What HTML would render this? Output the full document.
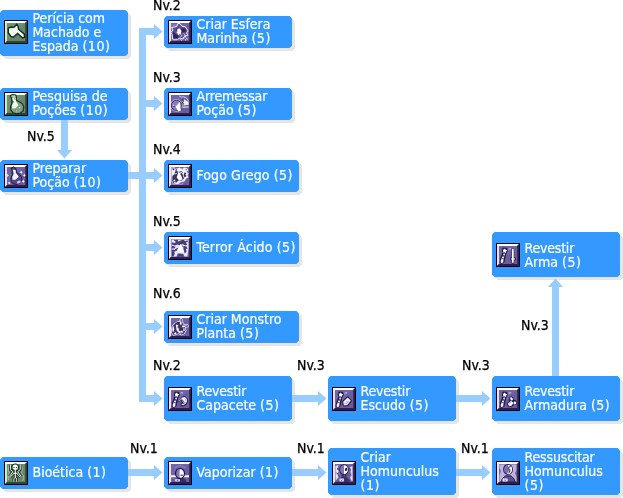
<!DOCTYPE html>
<html lang="pt"><head><meta charset="utf-8"><title>Árvore de Habilidades</title>
<style>
html,body{margin:0;padding:0;background:#fff}
body{will-change:transform;width:623px;height:498px;position:relative;overflow:hidden;font-family:"DejaVu Sans Condensed","Liberation Sans",sans-serif;font-size:14px;line-height:14px}
.b{position:absolute;background:#3399ff;clip-path:polygon(2.5px 0,calc(100% - 2.5px) 0,100% 2.5px,100% calc(100% - 2.5px),calc(100% - 2.5px) 100%,2.5px 100%,0 calc(100% - 2.5px),0 2.5px);color:#fff}
.s{position:absolute;background:#e5e5e5;clip-path:polygon(2.5px 0,calc(100% - 2.5px) 0,100% 2.5px,100% calc(100% - 2.5px),calc(100% - 2.5px) 100%,2.5px 100%,0 calc(100% - 2.5px),0 2.5px)}
.b .ic{position:absolute;left:4px}
.b span{-webkit-text-stroke:0.2px #fff;position:absolute;left:32.5px;white-space:nowrap;height:14px}
.b i{font-style:normal;letter-spacing:0.5px}
.l{position:absolute;color:#000;-webkit-text-stroke:0.25px #000;white-space:nowrap;height:14px}
.a{position:absolute;background:#99ccff}
.h{position:absolute;width:0;height:0;border-style:solid;border-color:transparent}
</style></head><body>

<div class="s" style="left:3px;top:13px;width:128px;height:46px"></div>
<div class="s" style="left:3px;top:91px;width:128px;height:32px"></div>
<div class="s" style="left:3px;top:163px;width:128px;height:32px"></div>
<div class="s" style="left:167px;top:19px;width:128px;height:32px"></div>
<div class="s" style="left:167px;top:91px;width:128px;height:32px"></div>
<div class="s" style="left:167px;top:163px;width:135px;height:32px"></div>
<div class="s" style="left:167px;top:235px;width:135px;height:32px"></div>
<div class="s" style="left:167px;top:314px;width:135px;height:32px"></div>
<div class="s" style="left:167px;top:379px;width:128px;height:45px"></div>
<div class="s" style="left:331px;top:379px;width:128px;height:45px"></div>
<div class="s" style="left:495px;top:379px;width:128px;height:45px"></div>
<div class="s" style="left:495px;top:235px;width:128px;height:45px"></div>
<div class="s" style="left:3px;top:460px;width:128px;height:32px"></div>
<div class="s" style="left:167px;top:460px;width:128px;height:32px"></div>
<div class="s" style="left:331px;top:451px;width:128px;height:47px"></div>
<div class="s" style="left:495px;top:451px;width:128px;height:47px"></div>
<div class="a" style="left:139px;top:28px;width:7px;height:374px"></div>
<div class="a" style="left:128px;top:172px;width:11px;height:7px"></div>
<div class="a" style="left:61px;top:119px;width:7px;height:31px"></div>
<div class="a" style="left:552px;top:287px;width:7px;height:89px"></div>
<div class="a" style="left:139px;top:28px;width:15px;height:7px"></div>
<svg class="h" style="left:154px;top:24px;width:9px;height:15px;border:0" viewBox="0 0 9 15"><path d="M0 0L8.5 7.5L0 15Z" fill="#99ccff"/></svg>
<div class="a" style="left:139px;top:100px;width:15px;height:7px"></div>
<svg class="h" style="left:154px;top:96px;width:9px;height:15px;border:0" viewBox="0 0 9 15"><path d="M0 0L8.5 7.5L0 15Z" fill="#99ccff"/></svg>
<div class="a" style="left:139px;top:172px;width:15px;height:7px"></div>
<svg class="h" style="left:154px;top:168px;width:9px;height:15px;border:0" viewBox="0 0 9 15"><path d="M0 0L8.5 7.5L0 15Z" fill="#99ccff"/></svg>
<div class="a" style="left:139px;top:244px;width:15px;height:7px"></div>
<svg class="h" style="left:154px;top:240px;width:9px;height:15px;border:0" viewBox="0 0 9 15"><path d="M0 0L8.5 7.5L0 15Z" fill="#99ccff"/></svg>
<div class="a" style="left:139px;top:323px;width:15px;height:7px"></div>
<svg class="h" style="left:154px;top:319px;width:9px;height:15px;border:0" viewBox="0 0 9 15"><path d="M0 0L8.5 7.5L0 15Z" fill="#99ccff"/></svg>
<div class="a" style="left:139px;top:395px;width:15px;height:7px"></div>
<svg class="h" style="left:154px;top:391px;width:9px;height:15px;border:0" viewBox="0 0 9 15"><path d="M0 0L8.5 7.5L0 15Z" fill="#99ccff"/></svg>
<div class="a" style="left:292px;top:395px;width:26px;height:7px"></div>
<svg class="h" style="left:318px;top:391px;width:9px;height:15px;border:0" viewBox="0 0 9 15"><path d="M0 0L8.5 7.5L0 15Z" fill="#99ccff"/></svg>
<div class="a" style="left:456px;top:395px;width:26px;height:7px"></div>
<svg class="h" style="left:482px;top:391px;width:9px;height:15px;border:0" viewBox="0 0 9 15"><path d="M0 0L8.5 7.5L0 15Z" fill="#99ccff"/></svg>
<div class="a" style="left:128px;top:469px;width:26px;height:7px"></div>
<svg class="h" style="left:154px;top:465px;width:9px;height:15px;border:0" viewBox="0 0 9 15"><path d="M0 0L8.5 7.5L0 15Z" fill="#99ccff"/></svg>
<div class="a" style="left:292px;top:469px;width:26px;height:7px"></div>
<svg class="h" style="left:318px;top:465px;width:9px;height:15px;border:0" viewBox="0 0 9 15"><path d="M0 0L8.5 7.5L0 15Z" fill="#99ccff"/></svg>
<div class="a" style="left:456px;top:469px;width:26px;height:7px"></div>
<svg class="h" style="left:482px;top:465px;width:9px;height:15px;border:0" viewBox="0 0 9 15"><path d="M0 0L8.5 7.5L0 15Z" fill="#99ccff"/></svg>
<svg class="h" style="left:57px;top:150px;width:15px;height:9px;border:0" viewBox="0 0 15 9"><path d="M0 0H15L7.5 8.5Z" fill="#99ccff"/></svg>
<svg class="h" style="left:548px;top:278px;width:15px;height:9px;border:0" viewBox="0 0 15 9"><path d="M0 9H15L7.5 0.5Z" fill="#99ccff"/></svg>
<div class="b" style="left:0px;top:10px;width:128px;height:46px"><svg class="ic" style="top:10px" width="24" height="24" viewBox="0 0 24 24"><rect width="24" height="24" fill="#08040f"/><rect x="1" y="1" width="22" height="22" fill="#6f9070"/><path d="M3 21L21 3V21Z" fill="#64866a"/><path d="M1 1H3V21L1 23Z" fill="#cfe8c8"/><path d="M1 1H23L21 3H1Z" fill="#f6fff2"/><path d="M23 1V23H1L3 21H21.2V3Z" fill="#2a4634"/><path d="M4.2 8.6L5.4 7.5L10.4 7L12.5 4.4L14.2 6.4L14.5 9.2L20.3 14.2L20.6 17.2L18.7 18L13.6 13.4L9.2 17.2L7 16.4L4.4 13Z" fill="#f3fbf3" stroke="#10281a" stroke-width="1.4"/><path d="M5.6 9.2L10.6 8.4L12.4 6.2" fill="none" stroke="#cfe8cf" stroke-width="0.6"/></svg><span style="top:1px">Perícia com</span><span style="top:15px">Machado e</span><span style="top:29px">Espada <i>(10)</i></span></div>
<div class="b" style="left:0px;top:88px;width:128px;height:32px"><svg class="ic" style="top:4px" width="24" height="24" viewBox="0 0 24 24"><rect width="24" height="24" fill="#08040f"/><rect x="1" y="1" width="22" height="22" fill="#6f9070"/><path d="M3 21L21 3V21Z" fill="#64866a"/><path d="M1 1H3V21L1 23Z" fill="#cfe8c8"/><path d="M1 1H23L21 3H1Z" fill="#f6fff2"/><path d="M23 1V23H1L3 21H21.2V3Z" fill="#2a4634"/><path d="M6.4 3.6L8.6 2.6L11.6 3L12.4 4.8L12.2 8.2L14.6 9.6L18.2 11.6L19.8 15L19.2 18.6L16.4 21.2L12.6 21.8L9 20.8L6.8 18L6.6 14.4L8 11L7.6 6.4Z" fill="#7fa182" stroke="#163020" stroke-width="1.2"/><path d="M7.2 3.8L9 3.2L11.2 3.6L11.6 4.8L8 5.2Z" fill="#b9d6b4"/><path d="M8.2 5.8L11.6 5.4L12 9L14.4 13.2L11.6 16.2L8 16.6L8.2 13L9.4 10.2Z" fill="#f4fbf4"/><path d="M15.2 15.2L16.2 15.2L16.2 16.2L15.2 16.2Z" fill="#f2faf2"/><path d="M12 18.4L13 18.4L13 19.2L12 19.2Z" fill="#cfe4cf"/><path d="M10 6.2L11.6 7.8" fill="none" stroke="#9fb43c" stroke-width="1.1"/><path d="M8.2 9.6L10 10" fill="none" stroke="#163020" stroke-width="0.8"/></svg><span style="top:1px">Pesquisa de</span><span style="top:15px">Poções <i>(10)</i></span></div>
<div class="b" style="left:0px;top:160px;width:128px;height:32px"><svg class="ic" style="top:4px" width="24" height="24" viewBox="0 0 24 24"><rect width="24" height="24" fill="#08040f"/><rect x="1" y="1" width="22" height="22" fill="#7165a7"/><path d="M3 21L21 3V21Z" fill="#695d9f"/><path d="M1 1H3V21L1 23Z" fill="#e6e1f7"/><path d="M1 1H23L21 3H1Z" fill="#ffffff"/><path d="M23 1V23H1L3 21H21.2V3Z" fill="#2c2050"/><path d="M7.2 4.2L9.4 3L12 4.6L12.6 8.4L15 9.8L17.4 12.6L18 16L16.2 19.2L12.6 20.4L9 19.8L7 17.4L7 13.6L8.4 10.4L8 6.4Z" fill="#54468a" stroke="#241a44" stroke-width="1"/><path d="M8.8 5.8L11.6 6L12 9L14.8 12.8L11.4 15.8L8.4 15.8L8.4 12.6L9.8 10Z" fill="#f6f4ff"/><path d="M6 4.4L7.4 5.6M6.6 7.6L8.4 8.6M8.4 9.4L7.6 11.6M12.2 5.6L12.6 6.4M14.4 13.2L15.6 12.2" fill="none" stroke="#1f5a2a" stroke-width="1"/><path d="M17.2 6.6L17.8 7.8L19 8.3L17.8 8.8L17.2 10L16.6 8.8L15.4 8.3L16.6 7.8ZM20.3 9.6L20.8 10.8L22 11.3L20.8 11.8L20.3 13L19.8 11.8L18.6 11.3L19.8 10.8ZM19.2 15.4L19.8 16.7L21 17.2L19.8 17.7L19.2 19L18.6 17.7L17.4 17.2L18.6 16.7ZM5.2 17.4L5.7 18.5L6.8 19L5.7 19.4L5.2 20.6L4.7 19.4L3.6 19L4.7 18.5Z" fill="#ffffff"/><path d="M13.6 17L16 16.4L17 18.2L15 19.4L12.6 19.4Z" fill="#cfc8ee"/><path d="M3.2 9.8L4.8 11.4L3.2 13Z" fill="#f6f4ff"/></svg><span style="top:1px">Preparar</span><span style="top:15px">Poção <i>(10)</i></span></div>
<div class="b" style="left:164px;top:16px;width:128px;height:32px"><svg class="ic" style="top:4px" width="24" height="24" viewBox="0 0 24 24"><rect width="24" height="24" fill="#08040f"/><rect x="1" y="1" width="22" height="22" fill="#7165a7"/><path d="M3 21L21 3V21Z" fill="#695d9f"/><path d="M1 1H3V21L1 23Z" fill="#e6e1f7"/><path d="M1 1H23L21 3H1Z" fill="#ffffff"/><path d="M23 1V23H1L3 21H21.2V3Z" fill="#2c2050"/><path d="M9.6 3.6L12 3.6L13.8 6.2L17.4 6.8L18.8 9L20 10.8L18.6 13L19.8 15.2L16.4 16.4L14.8 19.2L12 18L9.4 19.4L4.6 19.2L4.2 14.4L2.8 12.2L5 10.2L3.6 7.4L6.8 7L9 6.2Z" fill="#5b4d92" stroke="#f4f1ff" stroke-width="1"/><path d="M5.2 12L10.8 16.4L9.6 18.6L5.2 18.4Z" fill="#2e2256"/><path d="M13 8.4L17.2 8.6L18 11L15.6 12.6L13.4 11.6Z" fill="#2e2256"/><path d="M8 9L9.6 8.6L8.8 10.4Z" fill="#2e2256"/><path d="M9 9.6L11.6 8.2L12.6 9.8L13.6 11L12.8 12.6L13.4 14.4L11.4 14.2L10 15.2L9.6 13.2L8.2 12.2L9.6 11.2Z" fill="#ffffff"/><path d="M12.6 16.4L14.4 15.4M15 18.6L16 17M16.8 14.6L17.4 17.4M18.4 17.8L19.4 19.6M12.4 19.4L13.6 20.4M16.8 19.4L18 20.2M15.4 13.6L16.6 14.2" fill="none" stroke="#ffffff" stroke-width="0.9"/><path d="M3.6 5.2L8.6 5M4.4 20L9 20.2" fill="none" stroke="#a299d2" stroke-width="0.8"/></svg><span style="top:1px">Criar Esfera</span><span style="top:15px">Marinha <i>(5)</i></span></div>
<div class="b" style="left:164px;top:88px;width:128px;height:32px"><svg class="ic" style="top:4px" width="24" height="24" viewBox="0 0 24 24"><rect width="24" height="24" fill="#08040f"/><rect x="1" y="1" width="22" height="22" fill="#7165a7"/><path d="M3 21L21 3V21Z" fill="#695d9f"/><path d="M1 1H3V21L1 23Z" fill="#e6e1f7"/><path d="M1 1H23L21 3H1Z" fill="#ffffff"/><path d="M23 1V23H1L3 21H21.2V3Z" fill="#2c2050"/><circle cx="8.4" cy="13.4" r="5.2" fill="#8a7cc0" stroke="#2a1f50" stroke-width="0.9"/><circle cx="8.4" cy="13.4" r="5.9" fill="none" stroke="#e6e1fa" stroke-width="0.6"/><path d="M11.8 9.8L12.8 18.6L10.6 19.4L7.4 14.8L9.6 12.6Z" fill="#ffffff"/><path d="M5 12.4L6.4 13.4L5 14.2Z" fill="#ffffff"/><path d="M14.4 9.4L16.4 7.4L20.6 10L20.8 12.8L15.4 13.4L16 11.2Z" fill="#e9f3d6"/><path d="M11 3.8L13.4 5.2L15.6 4.6L19 6.6L20.8 9.4" fill="none" stroke="#d9d3f2" stroke-width="0.9"/><path d="M14.4 14.6L20.6 14.2L20.8 15.4L15 16Z" fill="#cfc8ee"/><path d="M5 14.4L6.8 14.4M13 16L14 17.8" fill="none" stroke="#1f5a2a" stroke-width="0.9"/><path d="M14 7L15.6 9.4L13.6 11.6" fill="none" stroke="#2a1f50" stroke-width="0.9"/></svg><span style="top:1px;letter-spacing:-0.15px">Arremessar</span><span style="top:15px">Poção <i>(5)</i></span></div>
<div class="b" style="left:164px;top:160px;width:135px;height:32px"><svg class="ic" style="top:4px" width="24" height="24" viewBox="0 0 24 24"><rect width="24" height="24" fill="#08040f"/><rect x="1" y="1" width="22" height="22" fill="#7165a7"/><path d="M3 21L21 3V21Z" fill="#695d9f"/><path d="M1 1H3V21L1 23Z" fill="#e6e1f7"/><path d="M1 1H23L21 3H1Z" fill="#ffffff"/><path d="M23 1V23H1L3 21H21.2V3Z" fill="#2c2050"/><path d="M3.4 3.6L7 3.2L6.4 5L9 4.6L11.6 3.4L13 4.6L16.8 3.6L19.6 4.4L20.4 6.6L18.6 7.8L20.6 9.4L19.4 11.4L20.6 13.2L18.2 14.6L16.4 17.4L13 18.2L9.6 20.4L5.4 20.6L3.6 18L3.4 12Z" fill="#f1eefc"/><path d="M4 4.6L6 4.4L6.4 6L5.2 6.2ZM7.6 5.4L9.4 5.2L8.4 7L10 7.2L8.4 9.2L6.4 9.6L7.4 7.6ZM13.6 4.4L15.2 4.4L14.8 5.6ZM17.6 5L19 5.4L18 6.6ZM16.4 8.6L18.4 9L17.4 10.8L18.4 12L16.6 13.4L15.6 11.4ZM4.4 12L6 10.6L8.6 10L9.6 8L11.6 7.4L12.4 9L14.4 9.4L15 12L16 14.4L14 16.6L10.4 16.6L8.4 18.4L6.4 18L5 19.4L4.2 16.4Z" fill="#3a2c66"/><path d="M10.6 7.6L12.4 8.6L13 11L14.6 15.6L11.2 16.6L8.6 13.4Z" fill="#ffffff"/><path d="M5.4 16L7.2 15.4L7.4 17.2L5.6 17.4Z" fill="#ffffff"/><path d="M6.2 13.4L7.8 14.6M11.4 8.6L13.2 7.4L14.8 8.8M12.6 10.2L13.4 11.6" fill="none" stroke="#1f5a2a" stroke-width="1"/><path d="M12 8.2L13 8.8" fill="none" stroke="#b9c43c" stroke-width="0.9"/><path d="M4 18.4L10 20.6L16 18.4L14.6 20.8L4.4 21Z" fill="#9a8fcd"/></svg><span style="top:8px;letter-spacing:0.08px">Fogo Grego <i>(5)</i></span></div>
<div class="b" style="left:164px;top:232px;width:135px;height:32px"><svg class="ic" style="top:4px" width="24" height="24" viewBox="0 0 24 24"><rect width="24" height="24" fill="#08040f"/><rect x="1" y="1" width="22" height="22" fill="#7165a7"/><path d="M3 21L21 3V21Z" fill="#695d9f"/><path d="M1 1H3V21L1 23Z" fill="#e6e1f7"/><path d="M1 1H23L21 3H1Z" fill="#ffffff"/><path d="M23 1V23H1L3 21H21.2V3Z" fill="#2c2050"/><path d="M3.6 3.6L20.4 3.6L20.6 12L19.4 20.4L16.6 20.6L15 17.4L11 18.6L8 20.6L3.6 20.6Z" fill="#e9e5fa"/><path d="M5.6 4L9.6 3.8L10.4 5.4L13 4.2L15.6 3.8L17 5L19.6 4.4L19.8 6L17.6 6.6L19.4 8.6L17.4 9.4L14.6 8L12 9.6L9.4 8.6L7 9.6L4 8.6L3.8 6.4L6.6 7L8 6ZM3.8 9.8L7.6 10.8L6.4 12.6L3.8 12.6ZM3.8 13.6L6.6 14L8.4 12.4L10.6 11.6L9.4 13.6L7.4 16L5.8 20.2L3.8 20.4ZM15.6 10L18.6 10.6L19.6 13L17.6 12.8L18.6 15.6L17 17.6L15.4 14.6ZM9.6 17.6L12.6 17.4L15.2 18.6L15.8 20.4L9 20.4Z" fill="#4a3c80"/><path d="M12.4 8L14.2 9.4L14.6 12.4L16.4 16L13 17L9.6 14Z" fill="#ffffff"/><path d="M6.4 15.6L8.2 15.2L8.4 17L6.6 17.2Z" fill="#ffffff"/><path d="M7 13L8.6 14.4M13.4 6.6L15.8 5.2M15.2 7.4L17.4 8.2M14.4 9.6L15.4 11.4M11.6 7.4L12.4 6.6" fill="none" stroke="#1f5a2a" stroke-width="1"/><path d="M14.2 8L15 8.6" fill="none" stroke="#b9c43c" stroke-width="0.9"/></svg><span style="top:8px;letter-spacing:0.15px">Terror Ácido <i>(5)</i></span></div>
<div class="b" style="left:164px;top:311px;width:135px;height:32px"><svg class="ic" style="top:4px" width="24" height="24" viewBox="0 0 24 24"><rect width="24" height="24" fill="#08040f"/><rect x="1" y="1" width="22" height="22" fill="#7165a7"/><path d="M3 21L21 3V21Z" fill="#695d9f"/><path d="M1 1H3V21L1 23Z" fill="#e6e1f7"/><path d="M1 1H23L21 3H1Z" fill="#ffffff"/><path d="M23 1V23H1L3 21H21.2V3Z" fill="#2c2050"/><path d="M12.6 3.4L13.8 3.6L14.6 6.6L15.4 9.4L19.8 9.6L20.6 11.6L17 12.6L18 15.4L16.4 19L13.4 20L10.6 18.6L8.4 19.6L5.2 20.4L3.4 17L3.6 12.4L5.4 9.4L7.6 8.2L9.6 6.4L11.4 6.6Z" fill="#41336f" stroke="#f1eefc" stroke-width="0.8"/><path d="M12.8 4.6L13.8 8.6L13 10.4L11.8 8.4ZM14.4 10.6L19.4 10.4L16.4 12L14 12.6ZM4.4 12.6L5.6 11L6.2 14.6L5.2 17.6L4.4 16ZM8 9.4L10.6 10.2L9.4 11.6L11.4 13.4L10.4 15L12 16.6L14.4 15.6L15 17.6L13 18.8L10.6 17.6L8.6 15.2L8.2 12.4ZM6 18.6L7.8 17L8.6 18.4L6.6 19.6ZM15 13.6L16.6 13.4L16.6 16L15.6 16.6Z" fill="#ffffff"/><path d="M7.4 8.6L10.6 7.4M9.6 12L12 14.6M13 13.6L15.2 14.6M12.4 17.2L14 18.4" fill="none" stroke="#241a44" stroke-width="0.8"/></svg><span style="top:1px">Criar Monstro</span><span style="top:15px">Planta <i>(5)</i></span></div>
<div class="b" style="left:164px;top:376px;width:128px;height:45px"><svg class="ic" style="top:11px" width="24" height="24" viewBox="0 0 24 24"><rect width="24" height="24" fill="#08040f"/><rect x="1" y="1" width="22" height="22" fill="#7165a7"/><path d="M3 21L21 3V21Z" fill="#695d9f"/><path d="M1 1H3V21L1 23Z" fill="#e6e1f7"/><path d="M1 1H23L21 3H1Z" fill="#ffffff"/><path d="M23 1V23H1L3 21H21.2V3Z" fill="#2c2050"/><path d="M6.6 4.6L10.6 4.8L12 7.6L10.4 10.6L8.4 19.6L5.6 21L3.6 20L4.2 15.6L6.4 9.6L5.6 7.4Z" fill="#241a44"/><path d="M8.7 5.4L9.6 6.7L11.3 7.3L10 8.4L9.9 10L8.5 9.2L6.7 9.6L7.4 8L6.5 6.7L8 6.6Z" fill="#ffffff"/><path d="M7.4 10.4L9.2 10.6L8.8 12.8L7 12.4Z" fill="#cfc9ea"/><path d="M6.6 13.2L8.4 13.6L7.6 16L7.2 19.4L5 20.2L4.6 18.2L5.6 15.4Z" fill="#f1eefb"/><path d="M5.6 15.2L7.8 15.8M7 12.8L8.6 13.2" fill="none" stroke="#241a44" stroke-width="0.7"/><path d="M13.2 5.8L14 4.8L15 5.6L14.4 6.6L13.4 6.6Z" fill="#dcd6f4"/><path d="M12 6.6L13 7.2" fill="none" stroke="#bdb5e2" stroke-width="0.8"/><path d="M10.2 14.4L14.4 9.6L17.2 9.2L19.4 11.4L20.2 14.6L18.6 17.4L15.6 19.4L12.8 19.2L12.4 17L13.8 15.6L12.6 13.6L11 15.2Z" fill="#241a44"/><path d="M14.2 10.4L16.8 10L18.6 11.6L19.2 14.4L17.8 16.6L15.4 18.2L13.6 18L13.8 16.8L15.8 16L13.2 12.4L11.4 14.2L10.9 13.9Z" fill="#f6f4ff"/><path d="M13.4 12L16.6 15.4M14.4 16.6L16.4 16.6" fill="none" stroke="#241a44" stroke-width="0.8"/><path d="M17 12L18.2 14.4L17 16.2" fill="none" stroke="#b5acdf" stroke-width="1"/></svg><span style="top:8px;letter-spacing:-0.2px">Revestir</span><span style="top:22px">Capacete <i>(5)</i></span></div>
<div class="b" style="left:328px;top:376px;width:128px;height:45px"><svg class="ic" style="top:11px" width="24" height="24" viewBox="0 0 24 24"><rect width="24" height="24" fill="#08040f"/><rect x="1" y="1" width="22" height="22" fill="#7165a7"/><path d="M3 21L21 3V21Z" fill="#695d9f"/><path d="M1 1H3V21L1 23Z" fill="#e6e1f7"/><path d="M1 1H23L21 3H1Z" fill="#ffffff"/><path d="M23 1V23H1L3 21H21.2V3Z" fill="#2c2050"/><path d="M6.6 4.6L10.6 4.8L12 7.6L10.4 10.6L8.4 19.6L5.6 21L3.6 20L4.2 15.6L6.4 9.6L5.6 7.4Z" fill="#241a44"/><path d="M8.7 5.4L9.6 6.7L11.3 7.3L10 8.4L9.9 10L8.5 9.2L6.7 9.6L7.4 8L6.5 6.7L8 6.6Z" fill="#ffffff"/><path d="M7.4 10.4L9.2 10.6L8.8 12.8L7 12.4Z" fill="#cfc9ea"/><path d="M6.6 13.2L8.4 13.6L7.6 16L7.2 19.4L5 20.2L4.6 18.2L5.6 15.4Z" fill="#f1eefb"/><path d="M5.6 15.2L7.8 15.8M7 12.8L8.6 13.2" fill="none" stroke="#241a44" stroke-width="0.7"/><path d="M13.2 5.8L14 4.8L15 5.6L14.4 6.6L13.4 6.6Z" fill="#dcd6f4"/><path d="M12 6.6L13 7.2" fill="none" stroke="#bdb5e2" stroke-width="0.8"/><path d="M10.4 14L15.6 9L20 13.4L19.2 15.2L15.8 19.2L12.2 19.6L10.4 17.6Z" fill="#241a44"/><path d="M11.4 14.4L15.6 10.4L18.8 13.6L15.4 18L12.6 18.4L11.4 17Z" fill="#f1eefc"/><path d="M12.6 16.4L15 16.2L17 14.2" fill="none" stroke="#a9a0d8" stroke-width="1"/><path d="M14.4 14.6L15.6 14.4" fill="none" stroke="#8278ba" stroke-width="0.8"/></svg><span style="top:8px;letter-spacing:-0.2px">Revestir</span><span style="top:22px">Escudo <i>(5)</i></span></div>
<div class="b" style="left:492px;top:376px;width:128px;height:45px"><svg class="ic" style="top:11px" width="24" height="24" viewBox="0 0 24 24"><rect width="24" height="24" fill="#08040f"/><rect x="1" y="1" width="22" height="22" fill="#7165a7"/><path d="M3 21L21 3V21Z" fill="#695d9f"/><path d="M1 1H3V21L1 23Z" fill="#e6e1f7"/><path d="M1 1H23L21 3H1Z" fill="#ffffff"/><path d="M23 1V23H1L3 21H21.2V3Z" fill="#2c2050"/><path d="M6.6 4.6L10.6 4.8L12 7.6L10.4 10.6L8.4 19.6L5.6 21L3.6 20L4.2 15.6L6.4 9.6L5.6 7.4Z" fill="#241a44"/><path d="M8.7 5.4L9.6 6.7L11.3 7.3L10 8.4L9.9 10L8.5 9.2L6.7 9.6L7.4 8L6.5 6.7L8 6.6Z" fill="#ffffff"/><path d="M7.4 10.4L9.2 10.6L8.8 12.8L7 12.4Z" fill="#cfc9ea"/><path d="M6.6 13.2L8.4 13.6L7.6 16L7.2 19.4L5 20.2L4.6 18.2L5.6 15.4Z" fill="#f1eefb"/><path d="M5.6 15.2L7.8 15.8M7 12.8L8.6 13.2" fill="none" stroke="#241a44" stroke-width="0.7"/><path d="M13.2 5.8L14 4.8L15 5.6L14.4 6.6L13.4 6.6Z" fill="#dcd6f4"/><path d="M12 6.6L13 7.2" fill="none" stroke="#bdb5e2" stroke-width="0.8"/><path d="M12.6 10.2L15 9.2L17.2 10.6L17.8 12.8L20.2 13.2L21.2 15.6L20.6 17.8L17.8 18.2L15.6 20L13 20.2L10.4 17L12.8 14.2L13.4 12.4Z" fill="#241a44"/><path d="M13.6 10.6L15.4 10.2L16.6 11.2L17 13L15.2 13.6ZM11.6 16.8L15 13.8L17.6 16L15.2 19L13.4 19.2Z M17.8 14.4L20.4 14.8L20 17.2L17.8 17.4Z" fill="#f6f4ff"/><path d="M13 16.8L15.4 15.2" fill="none" stroke="#b5acdf" stroke-width="0.8"/></svg><span style="top:8px;letter-spacing:-0.2px">Revestir</span><span style="top:22px">Armadura <i>(5)</i></span></div>
<div class="b" style="left:492px;top:232px;width:128px;height:45px"><svg class="ic" style="top:11px" width="24" height="24" viewBox="0 0 24 24"><rect width="24" height="24" fill="#08040f"/><rect x="1" y="1" width="22" height="22" fill="#7165a7"/><path d="M3 21L21 3V21Z" fill="#695d9f"/><path d="M1 1H3V21L1 23Z" fill="#e6e1f7"/><path d="M1 1H23L21 3H1Z" fill="#ffffff"/><path d="M23 1V23H1L3 21H21.2V3Z" fill="#2c2050"/><path d="M6.6 4.6L10.6 4.8L12 7.6L10.4 10.6L8.4 19.6L5.6 21L3.6 20L4.2 15.6L6.4 9.6L5.6 7.4Z" fill="#241a44"/><path d="M8.7 5.4L9.6 6.7L11.3 7.3L10 8.4L9.9 10L8.5 9.2L6.7 9.6L7.4 8L6.5 6.7L8 6.6Z" fill="#ffffff"/><path d="M7.4 10.4L9.2 10.6L8.8 12.8L7 12.4Z" fill="#cfc9ea"/><path d="M6.6 13.2L8.4 13.6L7.6 16L7.2 19.4L5 20.2L4.6 18.2L5.6 15.4Z" fill="#f1eefb"/><path d="M5.6 15.2L7.8 15.8M7 12.8L8.6 13.2" fill="none" stroke="#241a44" stroke-width="0.7"/><path d="M13.2 5.8L14 4.8L15 5.6L14.4 6.6L13.4 6.6Z" fill="#dcd6f4"/><path d="M12 6.6L13 7.2" fill="none" stroke="#bdb5e2" stroke-width="0.8"/><path d="M15.6 5.2L18.2 5.2L18.2 14.4L19.8 14.8L19.8 17.2L18.2 17.4L18.2 20.4L15.6 20.4L15.6 17.4L14 17.2L14 14.8L15.6 14.4Z" fill="#241a44"/><path d="M16 5.8L17.7 5.8L17.7 19.8L16 19.8Z" fill="#ffffff"/><path d="M14.8 15.4L19 15.4L19 16.6L14.8 16.6Z" fill="#f1eefc"/></svg><span style="top:9px;letter-spacing:-0.2px">Revestir</span><span style="top:23px">Arma <i>(5)</i></span></div>
<div class="b" style="left:0px;top:457px;width:128px;height:32px"><svg class="ic" style="top:4px" width="24" height="24" viewBox="0 0 24 24"><rect width="24" height="24" fill="#08040f"/><rect x="1" y="1" width="22" height="22" fill="#6f9070"/><path d="M3 21L21 3V21Z" fill="#64866a"/><path d="M1 1H3V21L1 23Z" fill="#cfe8c8"/><path d="M1 1H23L21 3H1Z" fill="#f6fff2"/><path d="M23 1V23H1L3 21H21.2V3Z" fill="#2a4634"/><path d="M5 4.4L4.2 9L5.4 12L4 15L4.6 19M17.6 4.4L18.4 9L17.2 12L19.6 15L19.6 18L18 20" fill="none" stroke="#a9c9a9" stroke-width="0.8"/><path d="M6.4 3.8L6.4 8.6L8.9 10.6L5.4 15.6M16.2 3.8L16.2 8.6L13.7 10.6L17.2 15.6M9.8 12.6L6.2 16.2M12.8 12.6L16.4 16.2" fill="none" stroke="#173222" stroke-width="2.6"/><path d="M11.3 8L11.3 17M9.2 12.2L13.4 12.2M9.9 20.6L9.9 17.6L11.3 16.6L12.7 17.6L12.7 20.6" fill="none" stroke="#173222" stroke-width="2.6"/><circle cx="11.3" cy="6.3" r="3.7" fill="#173222"/><circle cx="11.3" cy="6.3" r="2.7" fill="#f8fdf8"/><path d="M9.4 6.5L10.6 6.5M12 6.5L13.2 6.5" fill="none" stroke="#173222" stroke-width="0.9"/><path d="M6.4 3.6L6.4 8.6L8.9 10.6L5.4 15.6M16.2 3.6L16.2 8.6L13.7 10.6L17.2 15.6M9.8 12.6L6.2 16.2M12.8 12.6L16.4 16.2" fill="none" stroke="#f4fbf4" stroke-width="1"/><path d="M11.3 8.6L11.3 17M9.2 12.2L13.4 12.2" fill="none" stroke="#f8fdf8" stroke-width="1.1"/><path d="M9.9 20.8L9.9 17.6L11.3 16.6L12.7 17.6L12.7 20.8" fill="none" stroke="#e6f3e6" stroke-width="0.9"/><path d="M13.2 3.8L14 4.6" fill="none" stroke="#5a2a7a" stroke-width="0.8"/></svg><span style="top:8px">Bioética <i>(1)</i></span></div>
<div class="b" style="left:164px;top:457px;width:128px;height:32px"><svg class="ic" style="top:4px" width="24" height="24" viewBox="0 0 24 24"><rect width="24" height="24" fill="#08040f"/><rect x="1" y="1" width="22" height="22" fill="#7165a7"/><path d="M3 21L21 3V21Z" fill="#695d9f"/><path d="M1 1H3V21L1 23Z" fill="#e6e1f7"/><path d="M1 1H23L21 3H1Z" fill="#ffffff"/><path d="M23 1V23H1L3 21H21.2V3Z" fill="#2c2050"/><path d="M3 14.3L21 14.3L21 16.3L3 16.3Z" fill="#f6f4ff"/><path d="M7 21L8.4 18L11 16.4L14.6 16.4L17.6 18.4L18.4 21Z" fill="#3b2e68"/><ellipse cx="12" cy="12.4" rx="5" ry="5.5" fill="#1a1238"/><ellipse cx="12" cy="12.4" rx="3.8" ry="4.4" fill="#8478bb"/><path d="M11.6 8.2Q15.6 8.4 15.8 12.4Q15.6 16.2 12.6 16.8L11.6 16.6Z" fill="#ffffff"/><path d="M12.4 14.2L15 14.2" fill="none" stroke="#241a44" stroke-width="0.9"/><path d="M7.2 18.2L11.8 18.2L11.8 20.6L7.2 20.6Z" fill="#f4f1ff"/><path d="M8.6 19.4L10.4 19.4" fill="none" stroke="#3b2e68" stroke-width="0.7"/><path d="M6 7L12 4.4L18 7" fill="none" stroke="#8b80c2" stroke-width="1"/></svg><span style="top:8px">Vaporizar <i>(1)</i></span></div>
<div class="b" style="left:328px;top:448px;width:128px;height:47px"><svg class="ic" style="top:13px" width="24" height="24" viewBox="0 0 24 24"><rect width="24" height="24" fill="#08040f"/><rect x="1" y="1" width="22" height="22" fill="#7165a7"/><path d="M3 21L21 3V21Z" fill="#695d9f"/><path d="M1 1H3V21L1 23Z" fill="#e6e1f7"/><path d="M1 1H23L21 3H1Z" fill="#ffffff"/><path d="M23 1V23H1L3 21H21.2V3Z" fill="#2c2050"/><path d="M3.4 5L6.4 4L5.4 8L6.8 10.6L5 13L7 15.4L4.6 18.4L3.6 20Z M20.4 5L17.8 6.4L19 9.4L18 12L19.8 14.4L18 16L19.2 19.6L20.6 20Z" fill="#e4e0f6"/><path d="M5.6 7L6.2 9M4.4 11.6L5.6 13M17.6 8L19 8.4M18 11.6L19.4 12.6M6.4 14.4L7.4 16.4" fill="none" stroke="#3b2e68" stroke-width="0.9"/><path d="M6.4 21L7.6 17.6L10.4 15.4L13.8 15.4L16.8 18L18 21Z" fill="#3b2e68"/><ellipse cx="12" cy="8.6" rx="4.7" ry="5.4" fill="#241a44"/><ellipse cx="12" cy="8.6" rx="3.9" ry="4.6" fill="#8478bb"/><path d="M12 4.2Q15.8 4.6 15.9 8.6Q15.6 12.4 12.6 13.2L12 13Z" fill="#ffffff"/><path d="M13 7.4L15.2 6.6L15.2 9.4L13 10Z" fill="#241a44"/><path d="M9.8 13.8L14.4 13.8L14.4 15.2L9.8 15.2Z" fill="#241a44"/><path d="M11.8 14.2L12.6 14.2L12.6 14.9L11.8 14.9Z" fill="#e6e08a"/><path d="M7.4 17.4L11.8 17.4L11.8 20.6L7.4 20.6Z" fill="#f4f1ff"/><path d="M8.8 18.6L9.6 19.6L10.4 18.6" fill="none" stroke="#3b2e68" stroke-width="0.8"/></svg><span style="top:2px">Criar</span><span style="top:16px">Homunculus</span><span style="top:30px"><i>(1)</i></span></div>
<div class="b" style="left:492px;top:448px;width:128px;height:47px"><svg class="ic" style="top:13px" width="24" height="24" viewBox="0 0 24 24"><rect width="24" height="24" fill="#08040f"/><rect x="1" y="1" width="22" height="22" fill="#7165a7"/><path d="M3 21L21 3V21Z" fill="#695d9f"/><path d="M1 1H3V21L1 23Z" fill="#e6e1f7"/><path d="M1 1H23L21 3H1Z" fill="#ffffff"/><path d="M23 1V23H1L3 21H21.2V3Z" fill="#2c2050"/><path d="M3.4 3.6L20.4 3.6L20.4 9L19 12L20.4 16L20.4 20.6L3.4 20.6L3.6 14L5 10L3.4 7Z" fill="#d8d2f0" opacity="0.75"/><path d="M5 21L6.4 17.6L9.4 14.8L15 14.8L18 17.8L19.2 21Z" fill="#5b4d93" stroke="#241a44" stroke-width="0.9"/><ellipse cx="12" cy="8.4" rx="4.9" ry="5.4" fill="#241a44"/><ellipse cx="12" cy="8.4" rx="4.1" ry="4.6" fill="#7a6db4"/><path d="M12 4Q16 4.4 16.1 8.4Q15.8 12.2 12.8 13L12.6 10.4L13.2 8.4L12 6.8Z" fill="#ffffff"/><path d="M14.6 5.6L12.8 6L12.6 7.6L14 8.6L13.6 11.2L12.6 12" fill="none" stroke="#241a44" stroke-width="1"/><path d="M11 12.2L13.6 12.2" fill="none" stroke="#f1eefc" stroke-width="0.8"/><path d="M6.6 17.6L11.6 17.6L11.6 20.6L6.6 20.6Z" fill="#f4f1ff"/><path d="M8.4 18.6L9.2 19.6L10 18.6" fill="none" stroke="#3b2e68" stroke-width="0.8"/></svg><span style="top:2px;letter-spacing:-0.15px">Ressuscitar</span><span style="top:16px">Homunculus</span><span style="top:30px"><i>(5)</i></span></div>
<div class="l" style="left:153px;top:-2px">Nv.2</div>
<div class="l" style="left:153px;top:70px">Nv.3</div>
<div class="l" style="left:153px;top:142px">Nv.4</div>
<div class="l" style="left:153px;top:214px">Nv.5</div>
<div class="l" style="left:153px;top:286px">Nv.6</div>
<div class="l" style="left:153px;top:358px">Nv.2</div>
<div class="l" style="left:27px;top:129px">Nv.5</div>
<div class="l" style="left:297px;top:358px">Nv.3</div>
<div class="l" style="left:462px;top:358px">Nv.3</div>
<div class="l" style="left:521px;top:318px">Nv.3</div>
<div class="l" style="left:130px;top:441px">Nv.1</div>
<div class="l" style="left:297px;top:441px">Nv.1</div>
<div class="l" style="left:461px;top:441px">Nv.1</div>
</body></html>
